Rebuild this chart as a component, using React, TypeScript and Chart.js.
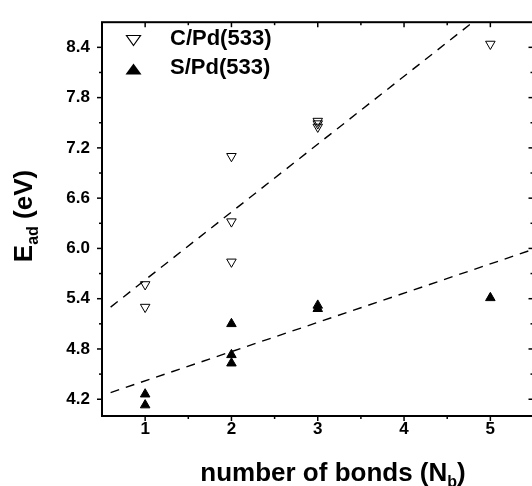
import React, { useEffect, useRef } from "react";
import { Chart, registerables } from "chart.js";

Chart.register(...registerables);

// Adsorption energies vs. number of Pd bonds
const cPdBonds = [1, 1, 2, 2, 2, 3, 3, 3, 5];
const cPdEnergy = [5.57, 5.3, 7.1, 6.32, 5.84, 7.52, 7.49, 7.45, 8.44];
const sPdBonds = [1, 1, 2, 2, 2, 3, 3, 5];
const sPdEnergy = [4.26, 4.13, 5.1, 4.73, 4.63, 5.32, 5.28, 5.41];

// Linear trend lines (endpoints)
const fitBonds = [0.6, 5.5];
const cPdFit = [5.3, 9.27];
const sPdFit = [4.28, 5.99];

// Axis ticks
const xMajor = [1, 2, 3, 4, 5];
const xMinor = [1.5, 2.5, 3.5, 4.5];
const yMajor = [4.2, 4.8, 5.4, 6.0, 6.6, 7.2, 7.8, 8.4];
const yMinor = [4.5, 5.1, 5.7, 6.3, 6.9, 7.5, 8.1];

const FONT = "'Liberation Sans', Arial, Helvetica, sans-serif";

type Part = { t: string; size: number; dy: number };

function drawParts(ctx: CanvasRenderingContext2D, parts: Part[], cx: number, baseline: number) {
  let total = 0;
  for (const p of parts) {
    ctx.font = `bold ${p.size}px ${FONT}`;
    total += ctx.measureText(p.t).width;
  }
  let x = cx - total / 2;
  ctx.textAlign = "left";
  ctx.textBaseline = "alphabetic";
  for (const p of parts) {
    ctx.font = `bold ${p.size}px ${FONT}`;
    ctx.fillText(p.t, x, baseline + p.dy);
    x += ctx.measureText(p.t).width;
  }
}

// Legend marker: isosceles triangle of given width/height centred on (x, y)
function legendTriangle(
  ctx: CanvasRenderingContext2D,
  x: number,
  y: number,
  w: number,
  h: number,
  down: boolean,
  filled: boolean
) {
  const tipY = down ? y + h / 2 : y - h / 2;
  const baseY = down ? y - h / 2 : y + h / 2;
  ctx.beginPath();
  ctx.moveTo(x, tipY);
  ctx.lineTo(x + w / 2, baseY);
  ctx.lineTo(x - w / 2, baseY);
  ctx.closePath();
  if (filled) ctx.fill();
  else ctx.stroke();
}

const framePlugin = {
  id: "frameAndTitles",
  afterDatasetsDraw(chart: any) {
    const { ctx, chartArea } = chart;
    const { left, right, top, bottom } = chartArea;
    const xs = chart.scales.x;
    const ys = chart.scales.y;
    ctx.save();
    ctx.strokeStyle = "#000";
    ctx.fillStyle = "#000";
    ctx.lineWidth = 2;
    ctx.strokeRect(left, top, right - left, bottom - top);

    ctx.lineWidth = 1.5;
    const tick = (x1: number, y1: number, x2: number, y2: number) => {
      ctx.beginPath();
      ctx.moveTo(x1, y1);
      ctx.lineTo(x2, y2);
      ctx.stroke();
    };
    for (const v of xMajor) {
      const px = xs.getPixelForValue(v);
      tick(px, bottom, px, bottom + 5);
      tick(px, top, px, top + 5);
    }
    for (const v of xMinor) {
      const px = xs.getPixelForValue(v);
      tick(px, bottom, px, bottom + 3);
      tick(px, top, px, top + 3);
    }
    for (const v of yMajor) {
      const py = ys.getPixelForValue(v);
      tick(left, py, left - 5, py);
      tick(right, py, right - 5, py);
    }
    for (const v of yMinor) {
      const py = ys.getPixelForValue(v);
      tick(left, py, left - 3, py);
      tick(right, py, right - 3, py);
    }

    // Legend
    const ds = chart.data.datasets;
    ctx.lineWidth = 1.2;
    legendTriangle(ctx, 133.5, 40.5, 14, 10, true, false);
    legendTriangle(ctx, 133.5, 69, 16, 11, false, true);
    ctx.font = `bold 22px ${FONT}`;
    ctx.textAlign = "left";
    ctx.textBaseline = "middle";
    ctx.fillText(ds[0].label, 170, 39);
    ctx.fillText(ds[1].label, 170, 68);

    // Axis titles
    drawParts(
      ctx,
      [
        { t: "number of bonds (N", size: 26, dy: 0 },
        { t: "b", size: 16, dy: 6 },
        { t: ")", size: 26, dy: 0 },
      ],
      333,
      481
    );
    ctx.save();
    ctx.translate(32, 216);
    ctx.rotate(-Math.PI / 2);
    drawParts(
      ctx,
      [
        { t: "E", size: 26, dy: 0 },
        { t: "ad", size: 16, dy: 6 },
        { t: " (eV)", size: 26, dy: 0 },
      ],
      0,
      0
    );
    ctx.restore();
    ctx.restore();
  },
};

export default function App() {
  const ref = useRef<HTMLCanvasElement>(null);

  useEffect(() => {
    document.body.style.margin = "0";
    document.body.style.overflow = "hidden";
    const canvas = ref.current;
    if (!canvas) return;
    const pts = (xs: number[], ys: number[]) => xs.map((x, i) => ({ x, y: ys[i] }));
    const chart = new Chart(canvas, {
      type: "scatter",
      data: {
        datasets: [
          {
            label: "C/Pd(533)",
            data: pts(cPdBonds, cPdEnergy),
            pointStyle: "triangle",
            rotation: 180,
            pointRadius: 5.5,
            borderColor: "#000",
            backgroundColor: "rgba(255,255,255,0)",
            borderWidth: 1,
          },
          {
            label: "S/Pd(533)",
            data: pts(sPdBonds, sPdEnergy),
            pointStyle: "triangle",
            pointRadius: 5.5,
            borderColor: "#000",
            backgroundColor: "#000",
            borderWidth: 1,
          },
          {
            label: "C fit",
            type: "line",
            data: pts(fitBonds, cPdFit),
            borderColor: "#000",
            borderWidth: 1.4,
            borderDash: [9, 7],
            pointRadius: 0,
            fill: false,
          },
          {
            label: "S fit",
            type: "line",
            data: pts(fitBonds, sPdFit),
            borderColor: "#000",
            borderWidth: 1.4,
            borderDash: [9, 7],
            pointRadius: 0,
            fill: false,
          },
        ],
      } as any,
      options: {
        animation: false,
        responsive: false,
        devicePixelRatio: 1,
        layout: { padding: { left: 0, top: 15, right: 5, bottom: 0 } },
        plugins: { legend: { display: false }, tooltip: { enabled: false } },
        scales: {
          x: {
            type: "linear",
            min: 0.5,
            max: 5.5,
            grid: { display: false, drawTicks: false },
            border: { display: false },
            afterBuildTicks: (s: any) => {
              s.ticks = xMajor.map((v) => ({ value: v }));
            },
            afterFit: (s: any) => {
              s.height = 70;
            },
            ticks: {
              color: "#000",
              padding: 3,
              font: { size: 17, weight: "bold", family: FONT },
              callback: (v: any) => String(v),
            },
          },
          y: {
            type: "linear",
            min: 4.0,
            max: 8.7,
            grid: { display: false, drawTicks: false },
            border: { display: false },
            afterBuildTicks: (s: any) => {
              s.ticks = yMajor.map((v) => ({ value: v }));
            },
            afterFit: (s: any) => {
              s.width = 102;
            },
            ticks: {
              color: "#000",
              padding: 12,
              font: { size: 17, weight: "bold", family: FONT },
              callback: (v: any) => Number(v).toFixed(1),
            },
          },
        },
      } as any,
      plugins: [framePlugin],
    });
    return () => chart.destroy();
  }, []);

  return (
    <div style={{ position: "fixed", left: 0, top: 0, width: 540, height: 486, background: "#fff" }}>
      <canvas ref={ref} width={540} height={486} style={{ width: 540, height: 486 }} />
    </div>
  );
}
